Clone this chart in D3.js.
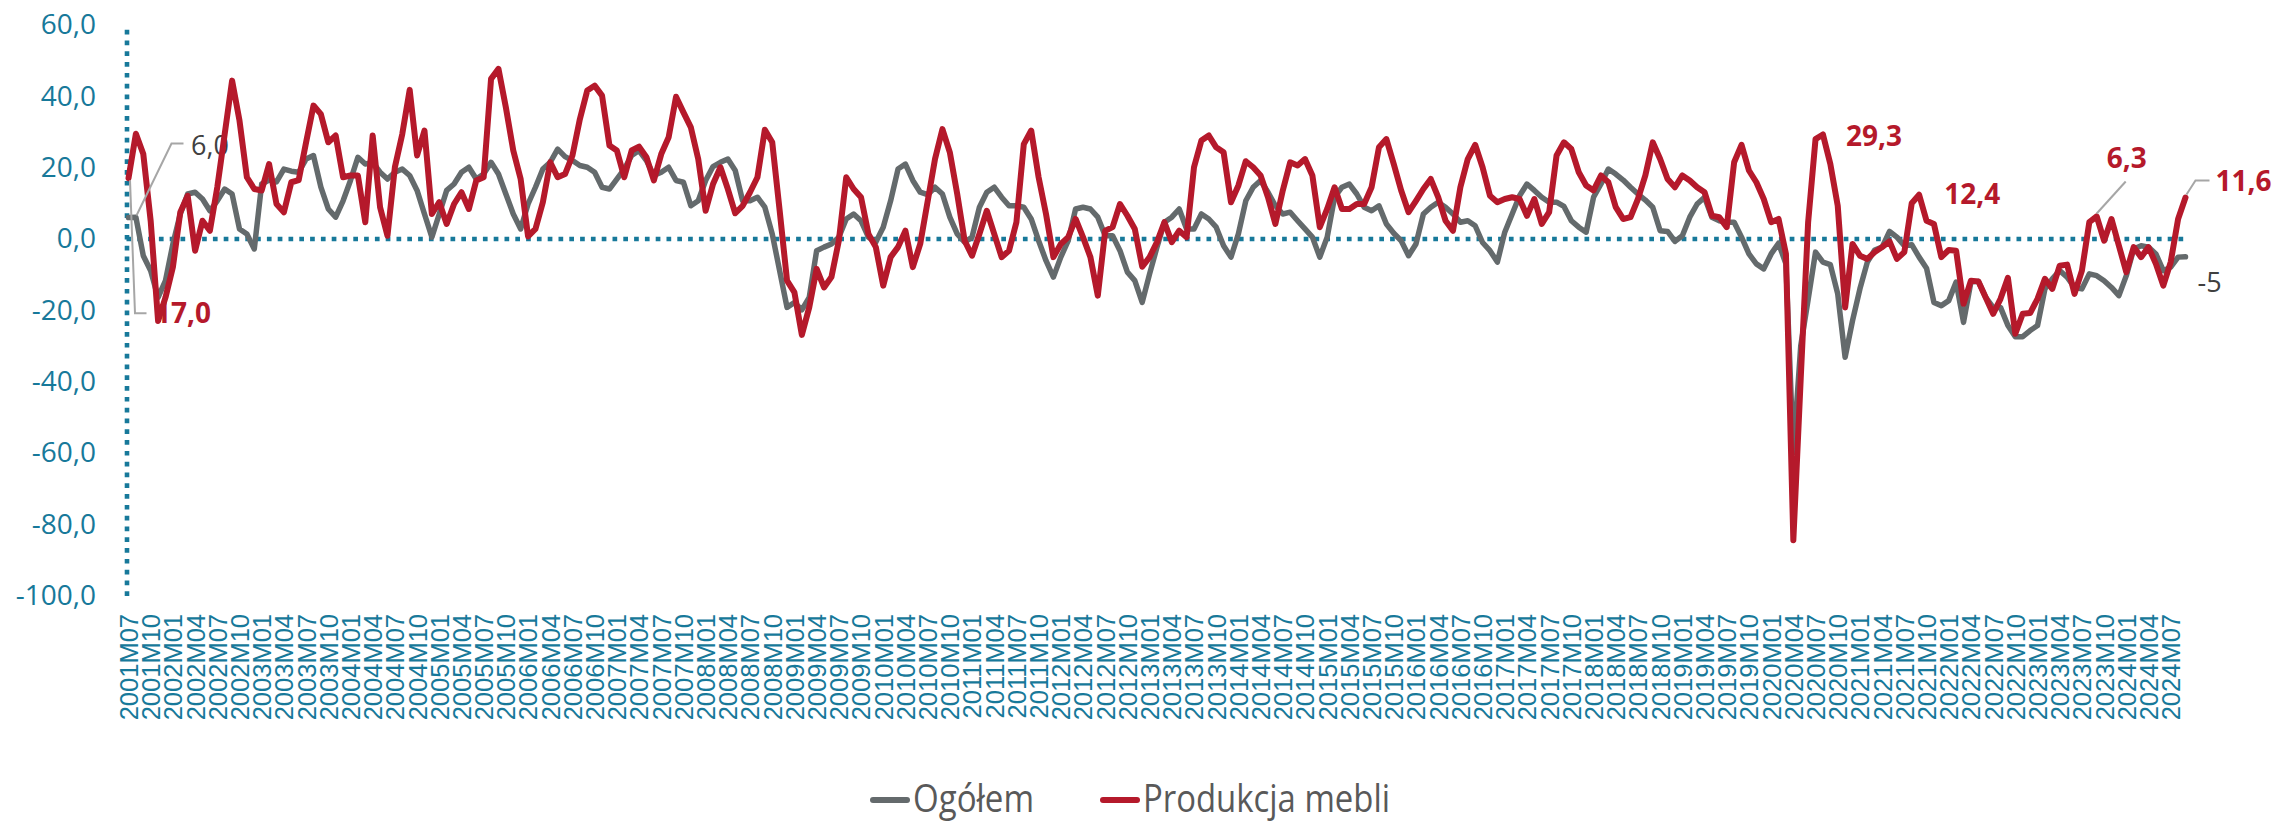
<!DOCTYPE html>
<html><head><meta charset="utf-8">
<script src="https://cdn.jsdelivr.net/npm/d3@7/dist/d3.min.js"></script>
<style>
html,body{margin:0;padding:0;background:#fff;}
svg{display:block;}
</style></head><body>
<svg id="chart" width="2275" height="822"></svg>
<script>
// ---------- DATA ----------
const startYear = 2001, startMonth = 7, nMonths = 279;
const categories = [];
for (let k = 0; k < nMonths; k++) {
  const m = startMonth - 1 + k;
  categories.push(`${startYear + Math.floor(m / 12)}M${String(m % 12 + 1).padStart(2, '0')}`);
}
const tickLabels = categories.filter((d, i) => i % 3 === 0);
const yTicks = [-100, -80, -60, -40, -20, 0, 20, 40, 60];
const seriesNames = ["Ogółem", "Produkcja mebli"];

const ogolem = [
 6.0,6.1,-4.7,-8.9,-16.4,-11.7,-1.4,7.0,12.6,13.1,11.2,7.9,10.7,14.0,12.6,2.8,1.4,-2.8,15.4,16.5,
 16.0,19.6,19.0,18.7,22.4,23.4,14.5,8.4,6.1,10.7,16.4,22.9,21.0,21.5,18.7,16.8,18.7,19.6,17.8,13.6,
 7.0,0.5,7.0,13.6,15.4,18.7,20.1,16.8,18.2,21.5,18.2,12.6,7.0,2.8,9.8,14.5,19.6,21.5,25.2,23.1,
 22.0,20.6,20.1,18.7,14.5,14.0,16.8,19.6,23.4,24.8,22.0,17.8,18.7,20.1,16.4,15.9,9.3,10.7,16.4,20.3,
 21.5,22.4,19.2,10.7,10.7,11.7,8.9,1.4,-8.9,-19.2,-17.8,-19.9,-16.4,-3.3,-2.3,-1.4,0.5,5.6,7.0,5.1,
 0.5,-0.9,3.3,10.7,19.6,21.0,16.4,13.1,12.4,14.5,12.6,6.1,1.4,-0.9,0.5,8.9,13.1,14.5,11.7,9.3,
 9.3,8.9,5.6,-0.5,-6.1,-10.7,-5.1,-0.5,8.4,8.9,8.4,6.1,0.9,0.9,-3.3,-9.3,-11.7,-17.8,-9.8,-2.3,
 4.7,6.1,8.4,2.8,2.8,7.0,5.6,3.3,-1.9,-5.1,1.4,10.7,14.5,16.4,13.1,9.3,7.0,7.5,5.1,2.8,
 0.5,-5.1,0.5,11.7,14.5,15.4,12.6,8.9,7.9,9.3,4.2,1.6,-0.5,-4.7,-1.4,7.0,8.9,10.3,8.9,7.0,
 4.7,5.1,3.7,-1.0,-3.3,-6.5,1.9,7.0,12.1,15.4,13.6,11.7,10.3,10.3,9.1,5.1,3.3,1.9,11.7,15.4,
 19.6,18.2,16.5,14.5,12.6,10.9,8.9,2.3,2.1,-0.7,0.9,6.1,9.8,11.7,6.1,5.1,4.7,4.7,0.5,-4.2,
 -7.0,-8.4,-4.2,-1.2,-7.0,-60.0,-30.0,-17.0,-3.7,-6.5,-7.2,-15.4,-33.2,-22.9,-14.0,-6.5,-3.1,-2.3,2.1,0.5,
 -1.9,-1.6,-5.1,-8.2,-17.8,-18.7,-17.3,-12.1,-23.4,-12.1,-11.9,-16.4,-19.2,-19.2,-24.3,-27.4,-27.4,-25.7,-24.3,-14.0,
 -11.2,-8.9,-10.7,-13.6,-14.0,-9.8,-10.3,-11.7,-13.6,-15.9,-10.3,-2.8,-1.9,-2.3,-4.2,-8.9,-7.9,-5.1,-5.0
];

const meble = [
 17.0,29.5,23.8,5.0,-23.0,-16.4,-7.9,7.5,12.1,-3.3,5.1,2.3,14.5,29.4,44.4,33.2,17.3,14.0,13.6,21.0,
 9.8,7.5,15.9,16.5,27.1,37.4,35.0,27.1,29.0,17.3,17.8,17.8,4.7,29.0,8.9,0.9,20.1,29.4,41.8,23.4,
 30.4,7.0,10.3,4.2,9.8,13.1,8.4,16.4,17.3,44.9,47.7,36.9,24.8,16.8,0.7,2.8,10.3,21.5,17.3,18.2,
 23.4,33.6,41.6,43.0,40.2,26.2,24.8,17.3,24.8,25.9,22.9,16.4,23.8,28.5,39.9,35.5,31.3,22.4,7.9,15.4,
 20.1,14.0,7.2,9.3,13.1,17.3,30.6,27.1,8.0,-11.7,-15.0,-26.9,-19.2,-8.4,-13.6,-10.7,-0.5,17.3,14.0,11.7,
 1.4,-2.3,-13.1,-5.1,-2.3,2.3,-7.9,-1.4,10.5,22.4,30.8,24.3,12.6,-0.5,-4.7,1.4,7.9,1.4,-5.1,-3.3,
 4.7,26.6,30.4,17.3,7.0,-5.1,-1.4,0.5,5.6,0.5,-5.1,-15.9,2.3,3.3,9.8,6.5,2.8,-7.8,-5.1,-0.9,
 4.7,-0.9,2.3,0.5,20.1,27.6,29.0,25.7,24.3,10.3,15.0,21.8,20.1,17.8,11.7,4.2,13.6,21.5,20.6,22.4,
 17.8,3.3,8.4,14.5,8.4,8.4,9.8,9.8,14.5,25.7,28.0,21.0,13.6,7.5,10.7,14.0,16.8,11.7,5.1,2.3,
 14.5,22.4,26.4,20.1,12.1,10.3,11.2,11.7,11.2,6.5,11.2,4.2,7.5,23.4,27.1,25.2,18.7,15.0,13.6,17.8,
 15.9,8.9,5.6,6.1,11.2,17.8,27.1,22.4,16.8,14.5,17.8,16.4,14.5,13.1,6.5,6.1,3.3,21.5,26.4,19.2,
 15.9,11.2,4.7,5.6,-4.2,-84.5,-39.0,4.7,28.0,29.3,21.0,9.3,-19.2,-1.4,-4.7,-5.6,-3.7,-2.3,-0.7,-5.6,
 -3.7,10.0,12.4,5.1,4.2,-5.1,-3.1,-3.3,-18.2,-11.7,-11.9,-16.4,-21.0,-16.8,-10.9,-26.6,-21.0,-20.8,-16.8,-11.2,
 -14.0,-7.5,-7.2,-15.4,-8.9,4.7,6.3,-0.5,5.6,-1.9,-9.3,-2.3,-5.1,-2.3,-7.0,-13.1,-6.5,5.6,11.6
];

// labelled points: series, category index, text
const annotations = [
  {series: "ogolem", index: 0, text: "6,0"},
  {series: "meble", index: 0, text: "17,0"},
  {series: "meble", index: 229, text: "29,3"},
  {series: "meble", index: 242, text: "12,4"},
  {series: "meble", index: 266, text: "6,3"},
  {series: "meble", index: 278, text: "11,6"},
  {series: "ogolem", index: 278, text: "-5"}
];

// ---------- STYLE ----------
const TEAL = "#17799a", RED = "#b5192b", GREY = "#646a6c", LEADER = "#a6a6a6";

const svg = d3.select("#chart");
const x = d3.scalePoint().domain(categories).range([128.5, 2185.5]);
const y = d3.scaleLinear().domain([-100, 60]).range([595.5, 25]);
const fmt = d3.formatLocale({decimal: ",", thousands: " ", grouping: [3], currency: ["", ""], minus: "-"}).format(".1f");

// y axis (dotted)
const yAx = svg.append("g").attr("transform", "translate(126.5,0)")
  .call(d3.axisLeft(y).tickValues(yTicks).tickFormat(fmt).tickSize(0).tickPadding(30.5));
yAx.select(".domain").attr("stroke", TEAL).attr("stroke-width", 4.6).attr("stroke-dasharray", "4.7,6.1");
yAx.selectAll("text").attr("fill", TEAL).attr("font-family", "'Open Sans', sans-serif").attr("font-size", 28);

// zero axis line (dotted)
const zAx = svg.append("g").attr("transform", `translate(0,${y(0)})`)
  .call(d3.axisBottom(x).tickValues([]).tickSizeOuter(0));
zAx.select(".domain").attr("stroke", TEAL).attr("stroke-width", 4.6).attr("stroke-dasharray", "4.7,6.1")
  .attr("d", `M${x(categories[0]) - 2},0H${x(categories[nMonths - 1]) + 2}`);

// category labels at the bottom
const xAx = svg.append("g").attr("transform", "translate(0,614)")
  .call(d3.axisBottom(x).tickValues(tickLabels).tickSize(0));
xAx.select(".domain").remove();
xAx.selectAll("text").attr("transform", "rotate(-90)").attr("x", 0).attr("y", 0).attr("dy", "0.35em")
  .attr("text-anchor", "end").attr("fill", TEAL)
  .attr("font-family", "'Liberation Sans', Arial, sans-serif").attr("font-size", 25.5);

// annotation text drawn under the lines
const dataOf = {ogolem, meble};
const pt = a => [x(categories[a.index]), y(dataOf[a.series][a.index])];
const labelG = svg.append("g");
const leaderG = svg.append("g");
const specs = {
  "6,0":  {dx: 62.5, dy: -62.6, bold: false, leader: [[8, -2], [43, -74], [55, -74]]},
  "17,0": {dx: 26.5, dy: 145, bold: true, leader: [[1.5, 2], [6.5, 135], [18, 135]]},
  "29,3": {dx: 23, dy: 11.5, bold: true},
  "12,4": {dx: 25, dy: 9.5, bold: true},
  "6,3":  {dx: 10, dy: -48.5, bold: true, leader: [[0, -3], [29, -35]]},
  "11,6": {dx: 30, dy: -7, bold: true, leader: [[1, -3], [10, -17], [24, -17]]},
  "-5":   {dx: 12, dy: 35, bold: false}
};
annotations.forEach(a => {
  const [px, py] = pt(a), s = specs[a.text];
  labelG.append("text").attr("x", px + s.dx).attr("y", py + s.dy).text(a.text)
    .attr("fill", a.series === "meble" ? RED : "#404040")
    .attr("font-family", "'Open Sans', sans-serif").attr("font-size", s.bold ? 28 : 27)
    .attr("font-weight", s.bold ? 700 : 400);
  if (s.leader) {
    leaderG.append("path").attr("d", d3.line()(s.leader.map(([u, v]) => [px + u, py + v])))
      .attr("fill", "none").attr("stroke", LEADER).attr("stroke-width", 2);
  }
});

// series lines
const line = d3.line().x((d, i) => x(categories[i])).y(d => y(d));
svg.append("path").datum(ogolem).attr("d", line).attr("fill", "none").attr("stroke", GREY)
  .attr("stroke-width", 5.5).attr("stroke-linejoin", "round").attr("stroke-linecap", "round");
svg.append("path").datum(meble).attr("d", line).attr("fill", "none").attr("stroke", RED)
  .attr("stroke-width", 6).attr("stroke-linejoin", "round").attr("stroke-linecap", "round");
leaderG.raise();

// legend
const legend = [
  {name: seriesNames[0], color: GREY, x0: 870, len: 121},
  {name: seriesNames[1], color: RED, x0: 1100, len: 247}
];
const lg = svg.append("g");
legend.forEach(l => {
  lg.append("line").attr("x1", l.x0 + 3).attr("x2", l.x0 + 37).attr("y1", 800).attr("y2", 800)
    .attr("stroke", l.color).attr("stroke-width", 6).attr("stroke-linecap", "round");
  lg.append("text").attr("x", l.x0 + 43).attr("y", 812).text(l.name)
    .attr("fill", "#595959").attr("font-family", "'Open Sans', sans-serif").attr("font-size", 39)
    .attr("textLength", l.len).attr("lengthAdjust", "spacingAndGlyphs");
});
</script>
</body></html>
